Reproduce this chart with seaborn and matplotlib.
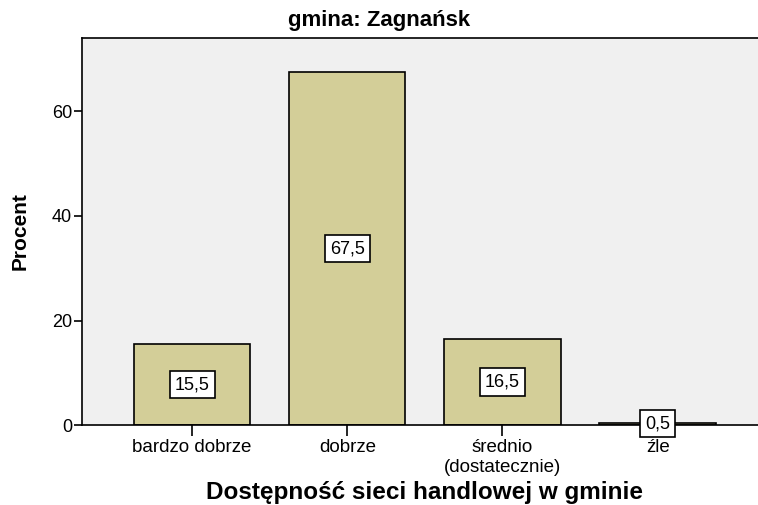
import matplotlib
matplotlib.use("Agg")
import matplotlib.pyplot as plt
import seaborn as sns
import pandas as pd

# Data
categories = ["bardzo dobrze", "dobrze", "średnio\n(dostatecznie)", "źle"]
percent = [15.5, 67.5, 16.5, 0.5]
value_labels = ["15,5", "67,5", "16,5", "0,5"]

sns.set_style("white")
plt.rcParams["font.family"] = ["Liberation Sans", "DejaVu Sans"]
plt.rcParams["text.color"] = "black"
plt.rcParams["axes.labelcolor"] = "black"
plt.rcParams["xtick.color"] = "black"
plt.rcParams["ytick.color"] = "black"

df = pd.DataFrame({"kategoria": categories, "procent": percent})

fig = plt.figure(figsize=(7.58, 5.05), dpi=100)
ax = fig.add_axes([0.108, 0.158, 0.905, 0.767])
ax.set_facecolor("#F0F0F0")

sns.barplot(
    data=df,
    x="kategoria",
    y="procent",
    color="#D3CE98",
    saturation=1,
    edgecolor="black",
    linewidth=1.2,
    width=0.75,
    ax=ax,
)

# value boxes in the middle of each bar
for i, (v, lab) in enumerate(zip(percent, value_labels)):
    ax.text(
        i, v / 2, lab, ha="center", va="center", fontsize=13,
        bbox=dict(boxstyle="square,pad=0.28", facecolor="white", edgecolor="black", linewidth=1.2),
    )

ax.set_ylim(0, 74)
ax.set_xlim(-0.71, 3.71)
ax.set_yticks([0, 20, 40, 60])
ax.tick_params(axis="y", length=6, width=1.2, labelsize=13, pad=1, left=True)
ax.tick_params(axis="x", length=8, width=1.2, labelsize=13.5, pad=2, bottom=True)

for side in ["left", "bottom", "top"]:
    ax.spines[side].set_visible(True)
    ax.spines[side].set_color("black")
    ax.spines[side].set_linewidth(1.2)
ax.spines["right"].set_visible(False)

fig.text(0.5, 0.96, "gmina: Zagnańsk", fontsize=16, fontweight="bold", ha="center", va="center")
ax.set_ylabel("Procent", fontsize=15, fontweight="bold", labelpad=16)
ax.set_xlabel("Dostępność sieci handlowej w gminie", fontsize=17.5, fontweight="bold")
ax.xaxis.label.set_va("baseline")
ax.xaxis.set_label_coords(0.5, -0.19)

fig.savefig("out.png", dpi=100, facecolor="white")
plt.close(fig)
